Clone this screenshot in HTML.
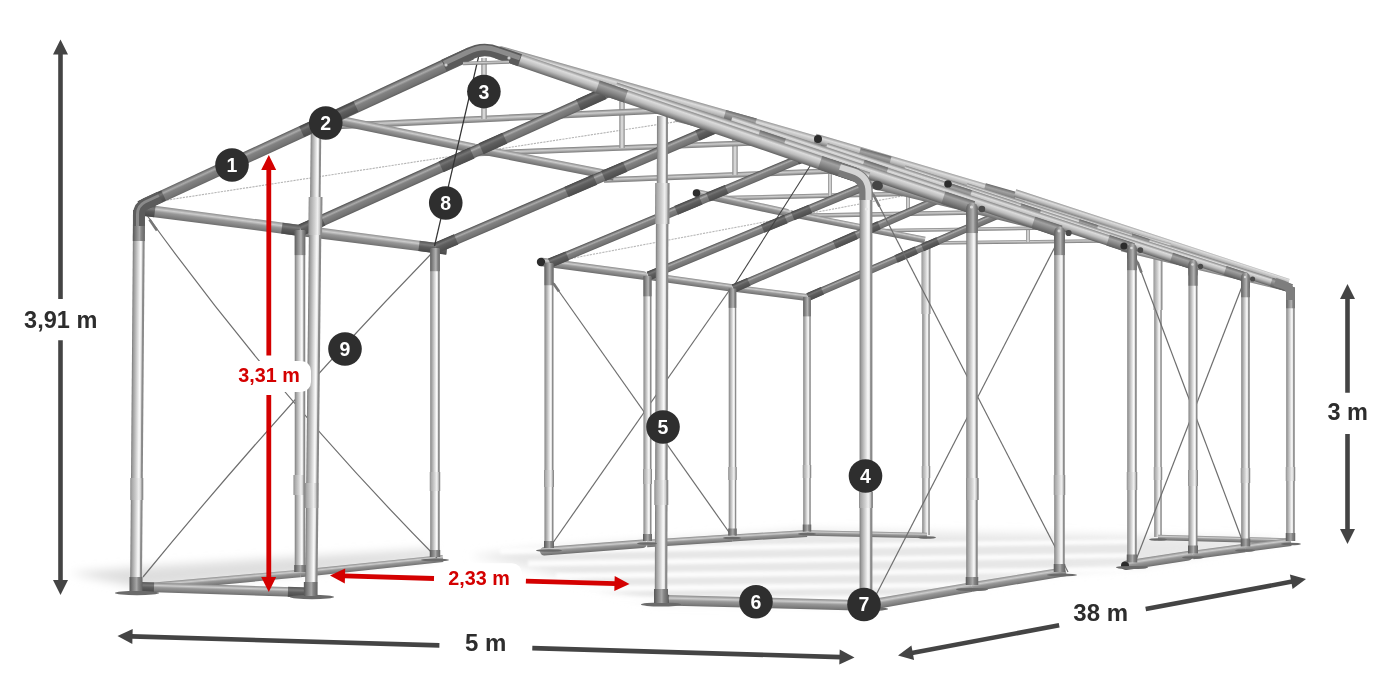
<!DOCTYPE html>
<html><head><meta charset="utf-8"><title>Tent frame dimensions</title>
<style>
html,body{margin:0;padding:0;background:#fff;}
body{width:1400px;height:700px;overflow:hidden;}
svg{display:block;font-family:"Liberation Sans",sans-serif;}
</style></head><body>
<svg width="1400" height="700" viewBox="0 0 1400 700">

<defs>
<filter id="blur" x="-10%" y="-50%" width="120%" height="200%"><feGaussianBlur stdDeviation="5"/></filter>
<filter id="blur2" x="-10%" y="-50%" width="120%" height="200%"><feGaussianBlur stdDeviation="1.6"/></filter>
<linearGradient id="gPost" x1="0" y1="0" x2="0" y2="1">
 <stop offset="0" stop-color="#787878"/><stop offset="0.12" stop-color="#9c9c9c"/><stop offset="0.45" stop-color="#d6d6d6"/><stop offset="0.66" stop-color="#fafafa"/><stop offset="0.78" stop-color="#e2e2e2"/><stop offset="0.86" stop-color="#8e8e8e"/><stop offset="1" stop-color="#858585"/>
</linearGradient>
<linearGradient id="gSleeve" x1="0" y1="0" x2="0" y2="1">
 <stop offset="0" stop-color="#8a8a8a"/><stop offset="0.12" stop-color="#a8a8a8"/><stop offset="0.45" stop-color="#d0d0d0"/><stop offset="0.66" stop-color="#efefef"/><stop offset="0.8" stop-color="#cfcfcf"/><stop offset="0.9" stop-color="#8e8e8e"/><stop offset="1" stop-color="#8a8a8a"/>
</linearGradient>
<linearGradient id="gPostD" x1="0" y1="0" x2="0" y2="1">
 <stop offset="0" stop-color="#565656"/><stop offset="0.2" stop-color="#767676"/><stop offset="0.55" stop-color="#a8a8a8"/><stop offset="0.7" stop-color="#868686"/><stop offset="1" stop-color="#646464"/>
</linearGradient>
<linearGradient id="gPostM" x1="0" y1="0" x2="0" y2="1">
 <stop offset="0" stop-color="#5e5e5e"/><stop offset="0.2" stop-color="#7c7c7c"/><stop offset="0.6" stop-color="#b4b4b4"/><stop offset="0.75" stop-color="#8c8c8c"/><stop offset="1" stop-color="#666"/>
</linearGradient>
<linearGradient id="gRaf" x1="0" y1="0" x2="0" y2="1">
 <stop offset="0" stop-color="#4a4a4a"/><stop offset="0.14" stop-color="#7c7c7c"/><stop offset="0.3" stop-color="#aaaaaa"/><stop offset="0.46" stop-color="#828282"/><stop offset="0.85" stop-color="#727272"/><stop offset="1" stop-color="#5c5c5c"/>
</linearGradient>
<linearGradient id="gConnR" x1="0" y1="0" x2="0" y2="1">
 <stop offset="0" stop-color="#444"/><stop offset="0.3" stop-color="#747474"/><stop offset="0.5" stop-color="#5e5e5e"/><stop offset="1" stop-color="#4c4c4c"/>
</linearGradient>
<linearGradient id="gPur" x1="0" y1="0" x2="0" y2="1">
 <stop offset="0" stop-color="#8a8a8a"/><stop offset="0.28" stop-color="#cccccc"/><stop offset="0.5" stop-color="#989898"/><stop offset="0.85" stop-color="#7c7c7c"/><stop offset="1" stop-color="#6c6c6c"/>
</linearGradient>
<linearGradient id="gConn" x1="0" y1="0" x2="0" y2="1">
 <stop offset="0" stop-color="#555"/><stop offset="0.3" stop-color="#7a7a7a"/><stop offset="0.55" stop-color="#5c5c5c"/><stop offset="1" stop-color="#484848"/>
</linearGradient>
<linearGradient id="gThin" x1="0" y1="0" x2="0" y2="1">
 <stop offset="0" stop-color="#7c7c7c"/><stop offset="0.4" stop-color="#cdcdcd"/><stop offset="1" stop-color="#767676"/>
</linearGradient>
<linearGradient id="gThinV" x1="0" y1="0" x2="0" y2="1">
 <stop offset="0" stop-color="#8a8a8a"/><stop offset="0.5" stop-color="#e6e6e6"/><stop offset="1" stop-color="#8a8a8a"/>
</linearGradient>
<linearGradient id="gBand" x1="0" y1="0" x2="0" y2="1">
 <stop offset="0" stop-color="#8e8e8e"/><stop offset="0.3" stop-color="#dcdcdc"/><stop offset="0.6" stop-color="#bcbcbc"/><stop offset="1" stop-color="#767676"/>
</linearGradient>
<linearGradient id="gBandD" x1="0" y1="0" x2="0" y2="1">
 <stop offset="0" stop-color="#7a7a7a"/><stop offset="0.3" stop-color="#b8b8b8"/><stop offset="0.6" stop-color="#9a9a9a"/><stop offset="1" stop-color="#666"/>
</linearGradient>
<linearGradient id="gBandE" x1="0" y1="0" x2="0" y2="1">
 <stop offset="0" stop-color="#808080"/><stop offset="0.3" stop-color="#c4c4c4"/><stop offset="0.6" stop-color="#a4a4a4"/><stop offset="1" stop-color="#6c6c6c"/>
</linearGradient>
<linearGradient id="gConnB" x1="0" y1="0" x2="0" y2="1">
 <stop offset="0" stop-color="#686868"/><stop offset="0.3" stop-color="#a2a2a2"/><stop offset="0.6" stop-color="#858585"/><stop offset="1" stop-color="#5c5c5c"/>
</linearGradient>
<linearGradient id="gBandF" x1="0" y1="0" x2="0" y2="1">
 <stop offset="0" stop-color="#868686"/><stop offset="0.25" stop-color="#dcdcdc"/><stop offset="0.55" stop-color="#bcbcbc"/><stop offset="0.82" stop-color="#868686"/><stop offset="1" stop-color="#5e5e5e"/>
</linearGradient>
</defs>

<g filter="url(#blur)">
<polygon points="470,556 540,548 807,530 1290,539 1140,566 1060,572 972,586 866,604 655,603 517,565" fill="#e7e7e7"/>
<polygon points="70,573 140,588 300,574 435,559 435,549 300,557 140,567" fill="#dedede"/>
</g>
<g filter="url(#blur2)" opacity="0.85">
<polygon points="500,548 1130,539.0 1130,544.0 500,554" fill="#ffffff"/>
<polygon points="528,560.5 1130,553.0 1130,558.0 528,566.5" fill="#ffffff"/>
<polygon points="556,573 1130,567.0 1130,572.0 556,579" fill="#ffffff"/>
<polygon points="584,585.5 1130,581.0 1130,586.0 584,591.5" fill="#ffffff"/>
<polygon points="612,597 1130,594.0 1130,599.0 612,603" fill="#ffffff"/>
</g>
<rect x="0" y="-3.75" width="285.00" height="7.50" rx="0.0" fill="url(#gPost)" transform="translate(926.00,535.00) rotate(-90.000)"/>
<rect x="0" y="-3.75" width="280.00" height="7.50" rx="0.0" fill="url(#gPost)" transform="translate(1158.00,537.00) rotate(-90.000)"/>
<rect x="0" y="-4.50" width="68.00" height="9.00" rx="0.0" fill="url(#gSleeve)" transform="translate(926.00,314.00) rotate(-90.000)"/>
<rect x="0" y="-4.50" width="54.00" height="9.00" rx="0.0" fill="url(#gSleeve)" transform="translate(1158.00,310.00) rotate(-90.000)"/>
<rect x="0" y="-2.75" width="120.03" height="5.50" rx="0.0" fill="url(#gPur)" transform="translate(807.00,533.00) rotate(1.193)"/>
<rect x="0" y="-2.75" width="132.05" height="5.50" rx="0.0" fill="url(#gPur)" transform="translate(1158.00,537.50) rotate(1.519)"/>
<rect x="0" y="-4.25" width="107.30" height="8.50" rx="4.2" fill="url(#gPur)" transform="translate(540.00,551.50) rotate(-4.276)"/>
<rect x="0" y="-3.75" width="85.18" height="7.50" rx="0.0" fill="url(#gPur)" transform="translate(647.00,543.50) rotate(-3.702)"/>
<rect x="0" y="-3.50" width="75.13" height="7.00" rx="0.0" fill="url(#gPur)" transform="translate(732.00,538.00) rotate(-3.434)"/>
<polygon points="0,-4.25 160.66,-3.75 160.66,3.75 0,4.25" fill="url(#gPur)" transform="translate(140.00,588.00) rotate(-5.178)"/>
<polygon points="0,-3.75 143.78,-3.50 143.78,3.50 0,3.75" fill="url(#gPur)" transform="translate(300.00,573.50) rotate(-5.988)"/>
<path d="M147.5,216 Q279,398.2 437,558" fill="none" stroke="#6e6e6e" stroke-width="1.2"/>
<path d="M143,577 Q280.3,409.5 431,254" fill="none" stroke="#6e6e6e" stroke-width="1.2"/>
<line x1="551.0" y1="280.0" x2="731.0" y2="535.0" stroke="#6e6e6e" stroke-width="1.2" />
<line x1="731.0" y1="288.0" x2="550.0" y2="547.0" stroke="#6e6e6e" stroke-width="1.2" />
<line x1="148.0" y1="203.0" x2="733.0" y2="113.0" stroke="#b4b4b4" stroke-width="1.1" stroke-dasharray="2.2 1"/>
<line x1="552.0" y1="262.0" x2="966.0" y2="184.0" stroke="#b8b8b8" stroke-width="1.1" stroke-dasharray="2.2 1"/>
<polygon points="0,-5.75 158.33,-5.50 158.33,5.50 0,5.75" fill="url(#gPur)" transform="translate(143.00,210.00) rotate(7.439)"/>
<polygon points="0,-5.50 148.22,-5.00 148.22,5.00 0,5.50" fill="url(#gPur)" transform="translate(300.00,230.50) rotate(7.365)"/>
<rect x="0" y="-5.75" width="12.00" height="11.50" rx="0.0" fill="url(#gConn)" transform="translate(143.00,210.00) rotate(7.439)"/>
<rect x="0" y="-5.50" width="18.00" height="11.00" rx="0.0" fill="url(#gConn)" transform="translate(281.82,228.13) rotate(7.439)"/>
<rect x="0" y="-5.25" width="28.00" height="10.50" rx="0.0" fill="url(#gConn)" transform="translate(419.01,245.88) rotate(7.365)"/>
<rect x="0" y="-4.25" width="110.46" height="8.50" rx="4.2" fill="url(#gPur)" transform="translate(538.00,261.50) rotate(7.543)"/>
<rect x="0" y="-3.75" width="85.84" height="7.50" rx="0.0" fill="url(#gPur)" transform="translate(647.50,276.00) rotate(8.036)"/>
<rect x="0" y="-3.50" width="75.10" height="7.00" rx="0.0" fill="url(#gPur)" transform="translate(732.50,288.00) rotate(7.267)"/>
<circle cx="541" cy="262" r="4.2" fill="#2c2c2c"/>
<rect x="0" y="-1.75" width="175.01" height="3.50" rx="0.0" fill="url(#gThin)" transform="translate(925.00,243.00) rotate(-0.655)"/>
<rect x="0" y="-2.00" width="31.12" height="4.00" rx="0.0" fill="url(#gThinV)" transform="translate(1028.00,241.82) rotate(-90.000)"/>
<rect x="0" y="-1.75" width="188.02" height="3.50" rx="0.0" fill="url(#gThin)" transform="translate(862.00,231.00) rotate(-0.914)"/>
<rect x="0" y="-2.00" width="34.78" height="4.00" rx="0.0" fill="url(#gThinV)" transform="translate(970.00,229.28) rotate(-90.000)"/>
<rect x="0" y="-2.25" width="210.04" height="4.50" rx="0.0" fill="url(#gThin)" transform="translate(790.00,216.00) rotate(-1.091)"/>
<rect x="0" y="-2.00" width="36.75" height="4.00" rx="0.0" fill="url(#gThinV)" transform="translate(908.00,213.75) rotate(-90.000)"/>
<rect x="0" y="-2.25" width="234.06" height="4.50" rx="0.0" fill="url(#gThin)" transform="translate(706.00,198.50) rotate(-1.346)"/>
<rect x="0" y="-2.00" width="40.59" height="4.00" rx="0.0" fill="url(#gThinV)" transform="translate(830.00,195.59) rotate(-90.000)"/>
<rect x="0" y="-2.75" width="266.21" height="5.50" rx="0.0" fill="url(#gThin)" transform="translate(604.00,180.00) rotate(-2.261)"/>
<rect x="0" y="-2.75" width="46.63" height="5.50" rx="0.0" fill="url(#gThinV)" transform="translate(735.00,174.83) rotate(-90.000)"/>
<rect x="0" y="-2.75" width="302.22" height="5.50" rx="0.0" fill="url(#gThin)" transform="translate(478.00,153.50) rotate(-2.181)"/>
<rect x="0" y="-2.75" width="52.52" height="5.50" rx="0.0" fill="url(#gThinV)" transform="translate(622.00,148.02) rotate(-90.000)"/>
<rect x="0" y="-3.25" width="334.38" height="6.50" rx="0.0" fill="url(#gThin)" transform="translate(326.00,126.50) rotate(-2.743)"/>
<rect x="0" y="-2.75" width="60.93" height="5.50" rx="0.0" fill="url(#gThinV)" transform="translate(484.00,118.93) rotate(-90.000)"/>
<rect x="0" y="-4.75" width="147.58" height="9.50" rx="0.0" fill="url(#gPur)" transform="translate(330.00,118.50) rotate(11.729)"/>
<rect x="0" y="-4.50" width="142.18" height="9.00" rx="0.0" fill="url(#gPur)" transform="translate(474.50,148.50) rotate(11.152)"/>
<rect x="0" y="-4.00" width="98.27" height="8.00" rx="4.0" fill="url(#gPur)" transform="translate(694.00,192.50) rotate(12.339)"/>
<rect x="0" y="-3.25" width="137.58" height="6.50" rx="0.0" fill="url(#gPur)" transform="translate(790.00,213.50) rotate(11.106)"/>
<circle cx="696.5" cy="193" r="3.8" fill="#2c2c2c"/>
<rect x="0" y="-3.75" width="235.29" height="7.50" rx="0.0" fill="url(#gRaf)" transform="translate(808.00,297.00) rotate(-23.362)"/>
<rect x="0" y="-4.00" width="15.65" height="8.00" rx="0.0" fill="url(#gConnR)" transform="translate(808.00,297.00) rotate(-23.362)"/>
<rect x="0" y="-4.00" width="22.17" height="8.00" rx="0.0" fill="url(#gConnR)" transform="translate(896.05,258.97) rotate(-23.362)"/>
<rect x="0" y="-4.00" width="16.96" height="8.00" rx="0.0" fill="url(#gConnR)" transform="translate(922.39,247.59) rotate(-23.362)"/>
<rect x="0" y="-4.00" width="18.26" height="8.00" rx="0.0" fill="url(#gConnR)" transform="translate(1000.05,214.04) rotate(-23.362)"/>
<rect x="0" y="-4.00" width="253.49" height="8.00" rx="0.0" fill="url(#gRaf)" transform="translate(733.50,288.50) rotate(-23.481)"/>
<rect x="0" y="-4.25" width="16.70" height="8.50" rx="0.0" fill="url(#gConnR)" transform="translate(733.50,288.50) rotate(-23.481)"/>
<rect x="0" y="-4.25" width="23.65" height="8.50" rx="0.0" fill="url(#gConnR)" transform="translate(834.48,244.63) rotate(-23.481)"/>
<rect x="0" y="-4.25" width="18.09" height="8.50" rx="0.0" fill="url(#gConnR)" transform="translate(862.55,232.44) rotate(-23.481)"/>
<rect x="0" y="-4.25" width="19.48" height="8.50" rx="0.0" fill="url(#gConnR)" transform="translate(940.48,198.59) rotate(-23.481)"/>
<rect x="0" y="-4.25" width="276.62" height="8.50" rx="0.0" fill="url(#gRaf)" transform="translate(648.50,276.00) rotate(-22.532)"/>
<rect x="0" y="-4.50" width="17.74" height="9.00" rx="0.0" fill="url(#gConnR)" transform="translate(648.50,276.00) rotate(-22.532)"/>
<rect x="0" y="-4.50" width="25.13" height="9.00" rx="0.0" fill="url(#gConnR)" transform="translate(762.69,228.62) rotate(-22.532)"/>
<rect x="0" y="-4.50" width="19.22" height="9.00" rx="0.0" fill="url(#gConnR)" transform="translate(792.73,216.16) rotate(-22.532)"/>
<rect x="0" y="-4.50" width="20.70" height="9.00" rx="0.0" fill="url(#gConnR)" transform="translate(876.69,181.33) rotate(-22.532)"/>
<rect x="0" y="-4.50" width="299.00" height="9.00" rx="0.0" fill="url(#gRaf)" transform="translate(550.00,263.00) rotate(-22.620)"/>
<rect x="0" y="-4.75" width="18.78" height="9.50" rx="0.0" fill="url(#gConnR)" transform="translate(550.00,263.00) rotate(-22.620)"/>
<rect x="0" y="-4.75" width="26.61" height="9.50" rx="0.0" fill="url(#gConnR)" transform="translate(676.10,210.46) rotate(-22.620)"/>
<rect x="0" y="-4.75" width="20.35" height="9.50" rx="0.0" fill="url(#gConnR)" transform="translate(707.89,197.21) rotate(-22.620)"/>
<rect x="0" y="-4.75" width="21.91" height="9.50" rx="0.0" fill="url(#gConnR)" transform="translate(797.10,160.04) rotate(-22.620)"/>
<rect x="0" y="-5.25" width="321.10" height="10.50" rx="0.0" fill="url(#gRaf)" transform="translate(436.00,248.00) rotate(-23.260)"/>
<rect x="0" y="-5.50" width="21.91" height="11.00" rx="0.0" fill="url(#gConnR)" transform="translate(436.00,248.00) rotate(-23.260)"/>
<rect x="0" y="-5.50" width="31.04" height="11.00" rx="0.0" fill="url(#gConnR)" transform="translate(566.45,191.93) rotate(-23.260)"/>
<rect x="0" y="-5.50" width="23.74" height="11.00" rx="0.0" fill="url(#gConnR)" transform="translate(603.36,176.07) rotate(-23.260)"/>
<rect x="0" y="-5.50" width="25.57" height="11.00" rx="0.0" fill="url(#gConnR)" transform="translate(697.45,135.62) rotate(-23.260)"/>
<rect x="0" y="-5.75" width="344.41" height="11.50" rx="0.0" fill="url(#gRaf)" transform="translate(301.00,230.00) rotate(-24.258)"/>
<rect x="0" y="-6.00" width="24.00" height="12.00" rx="0.0" fill="url(#gConnR)" transform="translate(301.00,230.00) rotate(-24.258)"/>
<rect x="0" y="-6.00" width="34.00" height="12.00" rx="0.0" fill="url(#gConnR)" transform="translate(441.03,166.90) rotate(-24.258)"/>
<rect x="0" y="-6.00" width="26.00" height="12.00" rx="0.0" fill="url(#gConnR)" transform="translate(481.15,148.82) rotate(-24.258)"/>
<rect x="0" y="-6.00" width="28.00" height="12.00" rx="0.0" fill="url(#gConnR)" transform="translate(578.53,104.93) rotate(-24.258)"/>
<rect x="0" y="-3.75" width="233.50" height="7.50" rx="0.0" fill="url(#gPost)" transform="translate(807.00,531.50) rotate(-90.000)"/>
<rect x="0" y="-3.75" width="19.38" height="7.50" rx="0.0" fill="url(#gPostM)" transform="translate(807.00,316.38) rotate(-90.000)"/>
<rect x="0" y="-3.75" width="246.00" height="7.50" rx="0.0" fill="url(#gPost)" transform="translate(732.50,535.50) rotate(-90.000)"/>
<rect x="0" y="-3.75" width="19.38" height="7.50" rx="0.0" fill="url(#gPostM)" transform="translate(732.50,307.88) rotate(-90.000)"/>
<rect x="0" y="-4.00" width="264.00" height="8.00" rx="0.0" fill="url(#gPost)" transform="translate(647.50,541.00) rotate(-90.000)"/>
<rect x="0" y="-4.00" width="20.33" height="8.00" rx="0.0" fill="url(#gPostM)" transform="translate(647.50,296.33) rotate(-90.000)"/>
<rect x="0" y="-4.50" width="284.00" height="9.00" rx="0.0" fill="url(#gPost)" transform="translate(549.00,548.00) rotate(-90.000)"/>
<rect x="0" y="-4.50" width="22.25" height="9.00" rx="0.0" fill="url(#gPostM)" transform="translate(549.00,285.25) rotate(-90.000)"/>
<rect x="0" y="-4.75" width="308.00" height="9.50" rx="0.0" fill="url(#gPost)" transform="translate(435.00,557.00) rotate(-90.000)"/>
<rect x="0" y="-4.75" width="23.21" height="9.50" rx="0.0" fill="url(#gPostM)" transform="translate(435.00,271.21) rotate(-90.000)"/>
<rect x="0" y="-5.25" width="341.00" height="10.50" rx="0.0" fill="url(#gPost)" transform="translate(300.00,572.00) rotate(-90.000)"/>
<rect x="0" y="-5.25" width="25.12" height="10.50" rx="0.0" fill="url(#gPostM)" transform="translate(300.00,255.12) rotate(-90.000)"/>
<line x1="871.0" y1="190.0" x2="1068.0" y2="572.0" stroke="#6e6e6e" stroke-width="1.2" />
<line x1="1060.0" y1="237.0" x2="875.0" y2="597.0" stroke="#6e6e6e" stroke-width="1.2" />
<line x1="1136.0" y1="258.0" x2="1244.0" y2="545.0" stroke="#6e6e6e" stroke-width="1.2" />
<line x1="1243.0" y1="284.0" x2="1136.0" y2="560.0" stroke="#6e6e6e" stroke-width="1.2" />
<rect x="0" y="-4.25" width="253.00" height="8.50" rx="0.0" fill="url(#gPost)" transform="translate(1290.50,541.00) rotate(-90.000)"/>
<rect x="0" y="-4.25" width="21.29" height="8.50" rx="0.0" fill="url(#gPostM)" transform="translate(1290.50,308.29) rotate(-90.000)"/>
<rect x="0" y="-4.25" width="269.50" height="8.50" rx="0.0" fill="url(#gPost)" transform="translate(1245.50,546.50) rotate(-90.000)"/>
<rect x="0" y="-4.25" width="21.29" height="8.50" rx="0.0" fill="url(#gPostM)" transform="translate(1245.50,297.29) rotate(-90.000)"/>
<rect x="0" y="-4.50" width="289.00" height="9.00" rx="0.0" fill="url(#gPost)" transform="translate(1193.00,553.50) rotate(-90.000)"/>
<rect x="0" y="-4.50" width="22.25" height="9.00" rx="0.0" fill="url(#gPostM)" transform="translate(1193.00,285.75) rotate(-90.000)"/>
<rect x="0" y="-4.75" width="314.50" height="9.50" rx="0.0" fill="url(#gPost)" transform="translate(1132.00,562.50) rotate(-90.000)"/>
<rect x="0" y="-4.75" width="23.21" height="9.50" rx="0.0" fill="url(#gPostM)" transform="translate(1132.00,270.21) rotate(-90.000)"/>
<rect x="0" y="-5.25" width="341.00" height="10.50" rx="0.0" fill="url(#gPost)" transform="translate(1059.50,572.00) rotate(-90.000)"/>
<rect x="0" y="-5.25" width="25.12" height="10.50" rx="0.0" fill="url(#gPostM)" transform="translate(1059.50,255.12) rotate(-90.000)"/>
<rect x="0" y="-5.75" width="378.00" height="11.50" rx="0.0" fill="url(#gPost)" transform="translate(972.00,585.00) rotate(-90.000)"/>
<rect x="0" y="-5.75" width="27.04" height="11.50" rx="0.0" fill="url(#gPostM)" transform="translate(972.00,233.04) rotate(-90.000)"/>
<polygon points="0,-5.25 107.60,-4.75 107.60,4.75 0,5.25" fill="url(#gPur)" transform="translate(866.00,605.50) rotate(-9.900)"/>
<polygon points="0,-4.75 95.27,-4.50 95.27,4.50 0,4.75" fill="url(#gPur)" transform="translate(972.00,587.00) rotate(-9.363)"/>
<rect x="0" y="-4.75" width="71.85" height="9.50" rx="4.8" fill="url(#gPur)" transform="translate(1122.00,566.00) rotate(-8.807)"/>
<rect x="0" y="-4.25" width="52.47" height="8.50" rx="0.0" fill="url(#gPur)" transform="translate(1193.00,555.00) rotate(-7.667)"/>
<rect x="0" y="-4.00" width="46.39" height="8.00" rx="0.0" fill="url(#gPur)" transform="translate(1245.00,548.00) rotate(-7.431)"/>
<circle cx="1125" cy="565.5" r="4" fill="#2c2c2c"/>
<polygon points="0,-5.50 333.60,-5.00 333.60,5.00 0,5.50" fill="url(#gBand)" transform="translate(499.00,51.20) rotate(15.794)"/>
<polygon points="0,-5.00 234.34,-4.00 234.34,4.00 0,5.00" fill="url(#gBand)" transform="translate(815.00,138.50) rotate(16.231)"/>
<rect x="0" y="-5.25" width="32.00" height="10.50" rx="0.0" fill="url(#gConnB)" transform="translate(724.59,114.94) rotate(15.768)"/>
<rect x="0" y="-5.25" width="32.00" height="10.50" rx="0.0" fill="url(#gConnB)" transform="translate(859.32,152.98) rotate(15.768)"/>
<rect x="0" y="-5.25" width="32.00" height="10.50" rx="0.0" fill="url(#gConnB)" transform="translate(984.43,188.31) rotate(15.768)"/>
<polygon points="0,-4.00 287.94,-2.50 287.94,2.50 0,4.00" fill="url(#gBand)" transform="translate(1015.00,193.00) rotate(17.900)"/>
<polygon points="0,-5.50 334.71,-4.75 334.71,4.75 0,5.50" fill="url(#gBand)" transform="translate(676.00,116.00) rotate(14.534)"/>
<polygon points="0,-4.50 233.65,-3.75 233.65,3.75 0,4.50" fill="url(#gBand)" transform="translate(945.00,184.00) rotate(15.642)"/>
<polygon points="0,-6.00 103.08,-5.50 103.08,5.50 0,6.00" fill="url(#gBandE)" transform="translate(872.00,182.50) rotate(14.036)"/>
<polygon points="0,-5.50 97.02,-5.00 97.02,5.00 0,5.50" fill="url(#gBandE)" transform="translate(972.00,207.50) rotate(14.323)"/>
<polygon points="0,-4.50 174.02,-3.75 174.02,3.75 0,4.50" fill="url(#gBand)" transform="translate(1122.00,247.00) rotate(13.797)"/>
<rect x="0" y="-4.25" width="280.62" height="8.50" rx="0.0" fill="url(#gBandF)" transform="translate(1024.00,203.70) rotate(17.589)"/>
<rect x="0" y="-4.25" width="18.42" height="8.50" rx="0.0" fill="url(#gConnB)" transform="translate(1131.00,237.62) rotate(17.589)"/>
<rect x="0" y="-4.50" width="21.25" height="9.00" rx="0.0" fill="url(#gConnB)" transform="translate(1271.24,282.08) rotate(17.589)"/>
<rect x="0" y="-4.50" width="294.58" height="9.00" rx="0.0" fill="url(#gBandF)" transform="translate(966.00,187.50) rotate(17.789)"/>
<rect x="0" y="-4.50" width="19.50" height="9.00" rx="0.0" fill="url(#gConnB)" transform="translate(1078.20,223.50) rotate(17.789)"/>
<rect x="0" y="-4.75" width="22.50" height="9.50" rx="0.0" fill="url(#gConnB)" transform="translate(1225.08,270.63) rotate(17.789)"/>
<rect x="0" y="-4.75" width="305.16" height="9.50" rx="0.0" fill="url(#gBandF)" transform="translate(904.00,170.00) rotate(18.138)"/>
<rect x="0" y="-4.75" width="20.58" height="9.50" rx="0.0" fill="url(#gConnB)" transform="translate(1020.00,208.00) rotate(18.138)"/>
<rect x="0" y="-5.00" width="23.75" height="10.00" rx="0.0" fill="url(#gConnB)" transform="translate(1171.43,257.61) rotate(18.138)"/>
<rect x="0" y="-5.25" width="323.03" height="10.50" rx="0.0" fill="url(#gBandF)" transform="translate(826.00,148.00) rotate(18.126)"/>
<rect x="0" y="-5.25" width="22.75" height="10.50" rx="0.0" fill="url(#gConnB)" transform="translate(948.80,188.20) rotate(18.126)"/>
<rect x="0" y="-5.50" width="26.25" height="11.00" rx="0.0" fill="url(#gConnB)" transform="translate(1108.05,240.33) rotate(18.126)"/>
<rect x="0" y="-5.75" width="347.47" height="11.50" rx="0.0" fill="url(#gBandF)" transform="translate(731.00,121.20) rotate(18.508)"/>
<rect x="0" y="-5.75" width="24.92" height="11.50" rx="0.0" fill="url(#gConnB)" transform="translate(862.80,165.32) rotate(18.508)"/>
<rect x="0" y="-6.00" width="28.75" height="12.00" rx="0.0" fill="url(#gConnB)" transform="translate(1033.24,222.37) rotate(18.508)"/>
<rect x="0" y="-6.25" width="377.26" height="12.50" rx="0.0" fill="url(#gBandF)" transform="translate(615.00,88.50) rotate(18.387)"/>
<rect x="0" y="-6.25" width="27.08" height="12.50" rx="0.0" fill="url(#gConnB)" transform="translate(758.20,136.10) rotate(18.387)"/>
<rect x="0" y="-6.50" width="31.25" height="13.00" rx="0.0" fill="url(#gConnB)" transform="translate(943.35,197.64) rotate(18.387)"/>
<circle cx="818" cy="139" r="4" fill="#2c2c2c"/>
<circle cx="948" cy="184" r="3.8" fill="#2c2c2c"/>
<circle cx="1124" cy="246" r="3.6" fill="#2c2c2c"/>
<path d="M1275,282 L1284,285 Q1290.5,287 1290.5,294 L1290.5,300" fill="none" stroke="#7e7e7e" stroke-width="8.5"/>
<rect x="0" y="-5.75" width="18.50" height="11.50" rx="5.8" fill="url(#gPostM)" transform="translate(972.00,221.00) rotate(-90.000)"/>
<circle cx="971.5" cy="207" r="1.6099999999999999" fill="#d8d8d8"/>
<rect x="0" y="-5.25" width="18.50" height="10.50" rx="5.2" fill="url(#gPostM)" transform="translate(1059.50,245.00) rotate(-90.000)"/>
<circle cx="1059.0" cy="231" r="1.47" fill="#d8d8d8"/>
<rect x="0" y="-4.75" width="18.50" height="9.50" rx="4.8" fill="url(#gPostM)" transform="translate(1132.00,262.00) rotate(-90.000)"/>
<circle cx="1131.5" cy="248" r="1.3299999999999998" fill="#d8d8d8"/>
<rect x="0" y="-4.50" width="18.50" height="9.00" rx="4.5" fill="url(#gPostM)" transform="translate(1193.00,278.50) rotate(-90.000)"/>
<circle cx="1192.5" cy="264.5" r="1.26" fill="#d8d8d8"/>
<rect x="0" y="-4.25" width="18.50" height="8.50" rx="4.2" fill="url(#gPostM)" transform="translate(1245.50,291.00) rotate(-90.000)"/>
<circle cx="1245.0" cy="277" r="1.19" fill="#d8d8d8"/>
<circle cx="981.8958333333334" cy="209" r="3.3083333333333336" fill="#4a4a4a"/>
<circle cx="1068.6041666666667" cy="233" r="3.091666666666667" fill="#4a4a4a"/>
<circle cx="1140.3125" cy="250" r="2.875" fill="#4a4a4a"/>
<circle cx="1200.5208333333333" cy="266.5" r="2.658333333333333" fill="#4a4a4a"/>
<circle cx="1252.625" cy="279" r="2.5500000000000003" fill="#4a4a4a"/>
<line x1="478.5" y1="57.0" x2="434.5" y2="246.0" stroke="#333" stroke-width="1.2" />
<line x1="812.0" y1="163.0" x2="735.0" y2="284.0" stroke="#444" stroke-width="1.1" />
<line x1="149.5" y1="219.5" x2="157.0" y2="230.5" stroke="#777" stroke-width="2.6" />
<line x1="873.0" y1="194.0" x2="879.5" y2="206.5" stroke="#777" stroke-width="2.6" />
<line x1="553.5" y1="283.5" x2="559.0" y2="291.5" stroke="#777" stroke-width="2.6" />
<line x1="1137.5" y1="262.0" x2="1141.5" y2="272.5" stroke="#777" stroke-width="2.6" />
<rect x="0" y="-4.75" width="168.09" height="9.50" rx="0.0" fill="url(#gPur)" transform="translate(140.00,587.00) rotate(1.875)"/>
<rect x="0" y="-5.00" width="14.00" height="10.00" rx="0.0" fill="url(#gConn)" transform="translate(140.00,587.00) rotate(1.875)"/>
<rect x="0" y="-5.00" width="20.00" height="10.00" rx="0.0" fill="url(#gConn)" transform="translate(287.92,591.84) rotate(1.875)"/>
<rect x="0" y="-5.25" width="211.07" height="10.50" rx="0.0" fill="url(#gPur)" transform="translate(655.00,600.00) rotate(1.493)"/>
<rect x="0" y="-5.50" width="14.00" height="11.00" rx="0.0" fill="url(#gConn)" transform="translate(655.00,600.00) rotate(1.493)"/>
<rect x="0" y="-5.50" width="15.00" height="11.00" rx="0.0" fill="url(#gConn)" transform="translate(850.93,605.11) rotate(1.493)"/>
<rect x="0" y="-5.25" width="462.02" height="10.50" rx="0.0" fill="url(#gPost)" transform="translate(311.20,596.00) rotate(-89.405)"/>
<rect x="0" y="-6.20" width="399.02" height="12.40" rx="0.0" fill="url(#gPost)" transform="translate(311.20,596.00) rotate(-89.383)"/>
<rect x="0" y="-6.90" width="38.00" height="13.80" rx="0.0" fill="url(#gSleeve)" transform="translate(315.20,235.00) rotate(-89.397)"/>
<rect x="0" y="-5.50" width="487.00" height="11.00" rx="0.0" fill="url(#gPost)" transform="translate(661.00,603.00) rotate(-89.824)"/>
<rect x="0" y="-6.25" width="420.00" height="12.50" rx="0.0" fill="url(#gPost)" transform="translate(661.00,603.00) rotate(-89.823)"/>
<rect x="0" y="-7.25" width="41.00" height="14.50" rx="0.0" fill="url(#gSleeve)" transform="translate(662.20,224.00) rotate(-89.721)"/>
<polygon points="0,-6.25 392.01,-6.75 392.01,6.75 0,6.25" fill="url(#gBandF)" transform="translate(497.00,52.40) rotate(18.842)"/>
<rect x="0" y="-6.50" width="30.00" height="13.00" rx="0.0" fill="url(#gConnB)" transform="translate(597.57,86.74) rotate(18.837)"/>
<rect x="0" y="-7.00" width="40.00" height="14.00" rx="0.0" fill="url(#gConnB)" transform="translate(819.99,162.62) rotate(18.837)"/>
<polygon points="0,-5.75 364.65,-6.50 364.65,6.50 0,5.75" fill="url(#gRaf)" transform="translate(140.00,206.50) rotate(-24.808)"/>
<rect x="0" y="-5.50" width="26.00" height="11.00" rx="0.0" fill="url(#gConnR)" transform="translate(140.00,206.50) rotate(-24.807)"/>
<rect x="0" y="-5.75" width="18.00" height="11.50" rx="0.0" fill="url(#gConnR)" transform="translate(301.58,131.82) rotate(-24.807)"/>
<rect x="0" y="-5.75" width="20.00" height="11.50" rx="0.0" fill="url(#gConnR)" transform="translate(337.88,115.04) rotate(-24.807)"/>
<path d="M444,65.5 L468,54.4 Q483,46.5 498,52.8 L520,60.3" fill="none" stroke="#5a5a5a" stroke-width="12.6" stroke-linejoin="round"/>
<path d="M444,63.2 L468,52.1 Q483,44.2 498,50.5 L520,58" fill="none" stroke="#8c8c8c" stroke-width="5" stroke-linejoin="round"/>
<circle cx="446" cy="65" r="1.6" fill="#cfcfcf"/>
<circle cx="509" cy="58" r="1.6" fill="#cfcfcf"/>
<rect x="0" y="-1.75" width="46.02" height="3.50" rx="0.0" fill="url(#gThin)" transform="translate(463.00,63.50) rotate(-1.868)"/>
<rect x="0" y="-5.90" width="379.01" height="11.80" rx="0.0" fill="url(#gPost)" transform="translate(136.00,591.00) rotate(-89.546)"/>
<rect x="0" y="-6.00" width="31.00" height="12.00" rx="0.0" fill="url(#gPostD)" transform="translate(138.80,241.00) rotate(-89.630)"/>
<path d="M139,226 L139,214 Q139,207 146,203.5 L160,197" fill="none" stroke="#5c5c5c" stroke-width="11.8"/>
<path d="M137.5,226 L137.5,214 Q137.5,206 145,202 L159,195.5" fill="none" stroke="#8a8a8a" stroke-width="3"/>
<rect x="0" y="-6.40" width="419.00" height="12.80" rx="0.0" fill="url(#gPost)" transform="translate(866.00,605.00) rotate(-90.000)"/>
<rect x="0" y="-7.00" width="26.00" height="14.00" rx="0.0" fill="url(#gConnB)" transform="translate(830.14,166.08) rotate(18.842)"/>
<path d="M840,169.5 L852,173.5 Q866,178 866,192 L866,200" fill="none" stroke="#7a7a7a" stroke-width="13.2"/>
<path d="M840,167 L853,171.2 Q868.5,176 868.5,192 L868.5,200" fill="none" stroke="#d4d4d4" stroke-width="6"/>
<ellipse cx="877.5" cy="185.5" rx="5.5" ry="4.6" fill="#444" transform="rotate(15 877.5 185.5)"/>
<circle cx="866.5" cy="209" r="1.6" fill="#e8e8e8"/>
<rect x="0" y="-6.50" width="22.00" height="13.00" rx="0.0" fill="url(#gSleeve)" transform="translate(136.80,500.00) rotate(-90.000)"/>
<rect x="0" y="-5.75" width="20.00" height="11.50" rx="0.0" fill="url(#gSleeve)" transform="translate(299.20,495.00) rotate(-90.000)"/>
<rect x="0" y="-6.75" width="25.00" height="13.50" rx="0.0" fill="url(#gSleeve)" transform="translate(311.60,508.00) rotate(-90.000)"/>
<rect x="0" y="-5.25" width="19.00" height="10.50" rx="0.0" fill="url(#gSleeve)" transform="translate(435.00,491.00) rotate(-90.000)"/>
<rect x="0" y="-5.00" width="17.00" height="10.00" rx="0.0" fill="url(#gSleeve)" transform="translate(549.00,487.00) rotate(-90.000)"/>
<rect x="0" y="-4.50" width="15.00" height="9.00" rx="0.0" fill="url(#gSleeve)" transform="translate(647.50,484.00) rotate(-90.000)"/>
<rect x="0" y="-7.00" width="25.00" height="14.00" rx="0.0" fill="url(#gSleeve)" transform="translate(661.30,505.00) rotate(-90.000)"/>
<rect x="0" y="-4.25" width="13.00" height="8.50" rx="0.0" fill="url(#gSleeve)" transform="translate(732.50,480.00) rotate(-90.000)"/>
<rect x="0" y="-4.25" width="13.00" height="8.50" rx="0.0" fill="url(#gSleeve)" transform="translate(807.00,478.00) rotate(-90.000)"/>
<rect x="0" y="-7.00" width="16.00" height="14.00" rx="0.0" fill="url(#gSleeve)" transform="translate(866.00,508.00) rotate(-90.000)"/>
<rect x="0" y="-4.25" width="12.00" height="8.50" rx="0.0" fill="url(#gSleeve)" transform="translate(926.00,478.00) rotate(-90.000)"/>
<rect x="0" y="-6.25" width="22.00" height="12.50" rx="0.0" fill="url(#gSleeve)" transform="translate(972.50,500.00) rotate(-90.000)"/>
<rect x="0" y="-5.75" width="20.00" height="11.50" rx="0.0" fill="url(#gSleeve)" transform="translate(1059.50,495.00) rotate(-90.000)"/>
<rect x="0" y="-5.25" width="18.00" height="10.50" rx="0.0" fill="url(#gSleeve)" transform="translate(1132.00,490.00) rotate(-90.000)"/>
<rect x="0" y="-4.25" width="13.00" height="8.50" rx="0.0" fill="url(#gSleeve)" transform="translate(1158.00,480.00) rotate(-90.000)"/>
<rect x="0" y="-5.00" width="16.00" height="10.00" rx="0.0" fill="url(#gSleeve)" transform="translate(1193.00,486.00) rotate(-90.000)"/>
<rect x="0" y="-4.75" width="15.00" height="9.50" rx="0.0" fill="url(#gSleeve)" transform="translate(1245.50,483.00) rotate(-90.000)"/>
<rect x="0" y="-4.75" width="14.00" height="9.50" rx="0.0" fill="url(#gSleeve)" transform="translate(1290.50,481.00) rotate(-90.000)"/>
<ellipse cx="137" cy="593" rx="22" ry="2.2" fill="#6a6a6a"/>
<ellipse cx="312" cy="597" rx="22" ry="2.2" fill="#6a6a6a"/>
<ellipse cx="661" cy="604.5" rx="20" ry="2.0" fill="#6a6a6a"/>
<ellipse cx="868" cy="609" rx="20" ry="2.0" fill="#6a6a6a"/>
<ellipse cx="435" cy="560" rx="14" ry="1.4" fill="#6a6a6a"/>
<ellipse cx="549" cy="550.5" rx="13" ry="1.3" fill="#6a6a6a"/>
<ellipse cx="647" cy="543.5" rx="10" ry="1.3" fill="#6a6a6a"/>
<ellipse cx="732" cy="538" rx="9" ry="1.3" fill="#6a6a6a"/>
<ellipse cx="807" cy="534" rx="9" ry="1.3" fill="#6a6a6a"/>
<ellipse cx="927" cy="537.5" rx="9" ry="1.3" fill="#6a6a6a"/>
<ellipse cx="972" cy="589.5" rx="16" ry="1.6" fill="#6a6a6a"/>
<ellipse cx="1062" cy="575" rx="15" ry="1.5" fill="#6a6a6a"/>
<ellipse cx="1132" cy="567.5" rx="16" ry="1.6" fill="#6a6a6a"/>
<ellipse cx="1193" cy="557.5" rx="11" ry="1.3" fill="#6a6a6a"/>
<ellipse cx="1245" cy="550.5" rx="10" ry="1.3" fill="#6a6a6a"/>
<ellipse cx="1291" cy="544" rx="10" ry="1.3" fill="#6a6a6a"/>
<ellipse cx="1158" cy="539.5" rx="9" ry="1.3" fill="#6a6a6a"/>
<rect x="0" y="-6.50" width="14.00" height="13.00" rx="0.0" fill="url(#gPostD)" transform="translate(136.00,591.00) rotate(-90.000)"/>
<rect x="0" y="-6.75" width="14.00" height="13.50" rx="0.0" fill="url(#gPostD)" transform="translate(310.60,596.00) rotate(-90.000)"/>
<rect x="0" y="-7.00" width="14.00" height="14.00" rx="0.0" fill="url(#gPostD)" transform="translate(661.00,603.00) rotate(-90.000)"/>
<rect x="0" y="-5.75" width="7.00" height="11.50" rx="0.0" fill="url(#gPostD)" transform="translate(300.00,572.00) rotate(-90.000)"/>
<rect x="0" y="-6.25" width="8.00" height="12.50" rx="0.0" fill="url(#gPostD)" transform="translate(972.00,585.00) rotate(-90.000)"/>
<rect x="0" y="-5.25" width="7.00" height="10.50" rx="0.0" fill="url(#gPostD)" transform="translate(435.00,557.00) rotate(-90.000)"/>
<rect x="0" y="-5.75" width="8.00" height="11.50" rx="0.0" fill="url(#gPostD)" transform="translate(1059.50,572.00) rotate(-90.000)"/>
<rect x="0" y="-5.00" width="7.00" height="10.00" rx="0.0" fill="url(#gPostD)" transform="translate(549.00,548.00) rotate(-90.000)"/>
<rect x="0" y="-5.25" width="8.00" height="10.50" rx="0.0" fill="url(#gPostD)" transform="translate(1132.00,562.50) rotate(-90.000)"/>
<rect x="0" y="-4.50" width="7.00" height="9.00" rx="0.0" fill="url(#gPostD)" transform="translate(647.50,541.00) rotate(-90.000)"/>
<rect x="0" y="-5.00" width="8.00" height="10.00" rx="0.0" fill="url(#gPostD)" transform="translate(1193.00,553.50) rotate(-90.000)"/>
<rect x="0" y="-4.25" width="7.00" height="8.50" rx="0.0" fill="url(#gPostD)" transform="translate(732.50,535.50) rotate(-90.000)"/>
<rect x="0" y="-4.75" width="8.00" height="9.50" rx="0.0" fill="url(#gPostD)" transform="translate(1245.50,546.50) rotate(-90.000)"/>
<rect x="0" y="-4.25" width="7.00" height="8.50" rx="0.0" fill="url(#gPostD)" transform="translate(807.00,531.50) rotate(-90.000)"/>
<rect x="0" y="-4.75" width="8.00" height="9.50" rx="0.0" fill="url(#gPostD)" transform="translate(1290.50,541.00) rotate(-90.000)"/>
<g style="opacity:0.999">
<line x1="60.5" y1="53.5" x2="60.5" y2="299.0" stroke="#444444" stroke-width="4.6" />
<line x1="60.5" y1="339.0" x2="60.5" y2="581.0" stroke="#444444" stroke-width="4.6" />
<polygon points="60.5,39.5 53.0,54.5 68.0,54.5" fill="#444444"/>
<polygon points="60.5,595.0 53.0,580.0 68.0,580.0" fill="#444444"/>
<line x1="1347.5" y1="298.0" x2="1347.5" y2="394.0" stroke="#444444" stroke-width="4.6" />
<line x1="1347.5" y1="434.0" x2="1347.5" y2="530.0" stroke="#444444" stroke-width="4.6" />
<polygon points="1347.5,284.0 1340.0,299.0 1355.0,299.0" fill="#444444"/>
<polygon points="1347.5,544.0 1340.0,529.0 1355.0,529.0" fill="#444444"/>
<line x1="131.5" y1="636.4" x2="439.4" y2="645.4" stroke="#444444" stroke-width="4.6" />
<line x1="532.3" y1="648.1" x2="840.5" y2="657.1" stroke="#444444" stroke-width="4.6" />
<polygon points="117.5,636.0 132.3,643.9 132.7,628.9" fill="#444444"/>
<polygon points="854.5,657.5 839.3,664.6 839.7,649.6" fill="#444444"/>
<line x1="911.8" y1="652.9" x2="1059.2" y2="625.3" stroke="#444444" stroke-width="4.6" />
<line x1="1145.7" y1="609.1" x2="1292.2" y2="581.6" stroke="#444444" stroke-width="4.6" />
<polygon points="898.0,655.5 914.1,660.1 911.4,645.4" fill="#444444"/>
<polygon points="1306.0,579.0 1292.6,589.1 1289.9,574.4" fill="#444444"/>
<line x1="268.8" y1="169.0" x2="268.8" y2="355.5" stroke="#d40000" stroke-width="4.8" />
<line x1="268.8" y1="395.0" x2="268.8" y2="578.0" stroke="#d40000" stroke-width="4.8" />
<polygon points="268.8,155.0 261.2,170.0 276.2,170.0" fill="#d40000"/>
<polygon points="268.8,592.0 261.2,577.0 276.2,577.0" fill="#d40000"/>
<line x1="344.0" y1="575.9" x2="434.0" y2="578.5" stroke="#d40000" stroke-width="4.8" />
<line x1="525.9" y1="581.1" x2="615.5" y2="583.6" stroke="#d40000" stroke-width="4.8" />
<polygon points="330.0,575.5 344.8,583.4 345.2,568.4" fill="#d40000"/>
<polygon points="629.5,584.0 614.3,591.1 614.7,576.1" fill="#d40000"/>
<rect x="14.7" y="300.3" width="92" height="40" rx="10" fill="#fff"/>
<text x="60.7" y="327.5" font-size="23.5" font-weight="700" fill="#2d2d2d" text-anchor="middle">3,91 m</text>
<rect x="1311.7" y="392.8" width="72" height="40" rx="10" fill="#fff"/>
<text x="1347.7" y="420.0" font-size="23.5" font-weight="700" fill="#2d2d2d" text-anchor="middle">3 m</text>
<rect x="448.7" y="625.2" width="74" height="38" rx="10" fill="#fff"/>
<text x="485.7" y="651.0" font-size="24" font-weight="700" fill="#2d2d2d" text-anchor="middle">5 m</text>
<rect x="1060.7" y="595.2" width="80" height="38" rx="10" fill="#fff"/>
<text x="1100.7" y="621.0" font-size="24" font-weight="700" fill="#2d2d2d" text-anchor="middle">38 m</text>
<rect x="227.0" y="360.9" width="84" height="31" rx="10" fill="#fff"/>
<text x="269.0" y="382.0" font-size="19.8" font-weight="700" fill="#d40000" text-anchor="middle">3,31 m</text>
<rect x="436.0" y="563.2" width="86" height="32" rx="10" fill="#fff"/>
<text x="479.0" y="585.0" font-size="19.8" font-weight="700" fill="#d40000" text-anchor="middle">2,33 m</text>
<circle cx="232" cy="165" r="16.8" fill="#2e2e2e"/>
<text x="232" y="171.9" font-size="19.5" font-weight="700" fill="#fff" text-anchor="middle">1</text>
<circle cx="325.75" cy="123" r="16.8" fill="#2e2e2e"/>
<text x="325.75" y="129.9" font-size="19.5" font-weight="700" fill="#fff" text-anchor="middle">2</text>
<circle cx="483.9" cy="91.6" r="16.8" fill="#2e2e2e"/>
<text x="483.9" y="98.5" font-size="19.5" font-weight="700" fill="#fff" text-anchor="middle">3</text>
<circle cx="445.75" cy="203" r="16.8" fill="#2e2e2e"/>
<text x="445.75" y="209.9" font-size="19.5" font-weight="700" fill="#fff" text-anchor="middle">8</text>
<circle cx="345" cy="349" r="16.8" fill="#2e2e2e"/>
<text x="345" y="355.9" font-size="19.5" font-weight="700" fill="#fff" text-anchor="middle">9</text>
<circle cx="663" cy="427" r="16.8" fill="#2e2e2e"/>
<text x="663" y="433.9" font-size="19.5" font-weight="700" fill="#fff" text-anchor="middle">5</text>
<circle cx="865.5" cy="476" r="16.8" fill="#2e2e2e"/>
<text x="865.5" y="482.9" font-size="19.5" font-weight="700" fill="#fff" text-anchor="middle">4</text>
<circle cx="756" cy="601.75" r="16.8" fill="#2e2e2e"/>
<text x="756" y="608.65" font-size="19.5" font-weight="700" fill="#fff" text-anchor="middle">6</text>
<circle cx="864" cy="604.5" r="16.8" fill="#2e2e2e"/>
<text x="864" y="611.4" font-size="19.5" font-weight="700" fill="#fff" text-anchor="middle">7</text>
</g>
</svg>
</body></html>
